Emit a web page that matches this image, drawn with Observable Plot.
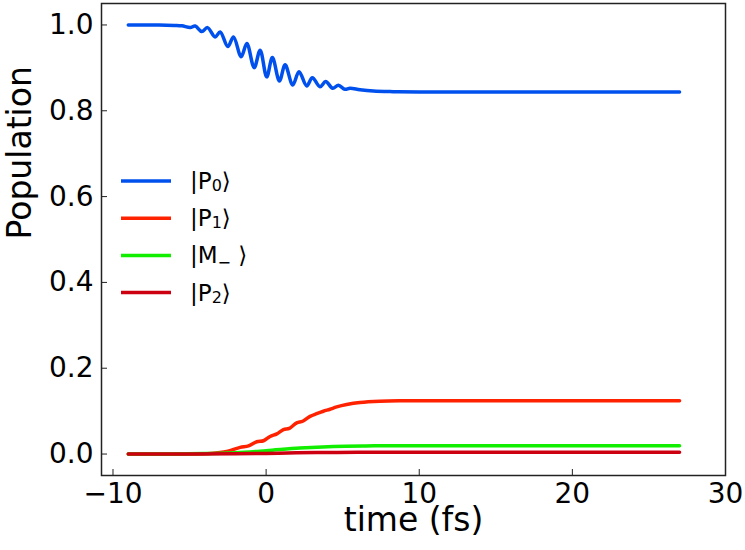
<!DOCTYPE html>
<html>
<head>
<meta charset="utf-8">
<script src="https://cdn.jsdelivr.net/npm/d3@7"></script>
<script src="https://cdn.jsdelivr.net/npm/@observablehq/plot@0.6"></script>
<style>
  body { margin: 0; background: white; }
  svg { display: block; }
</style>
</head>
<body>
<div id="chart"></div>
<script>
const xTicks = [-10, 0, 10, 20, 30];
const yTicks = [0, 0.2, 0.4, 0.6, 0.8, 1.0];

// label = [base, subscript, trailing]
const labels = [["|P", "0", "\u27E9"], ["|P", "1", "\u27E9"], ["|M", "\u2212", " \u27E9"], ["|P", "2", "\u27E9"]];
const colors = ["#0050ee", "#ff2200", "#11ee00", "#cc0011"];

const tP0 = [-9, -7, -6, -5.5, -4.96, -4.63, -4.2, -3.83, -3.33, -3.0, -2.5, -2.13, -1.63, -1.26, -0.78, -0.39, 0.04, 0.41, 0.87, 1.24, 1.74, 2.15, 2.65, 3.02, 3.52, 3.89, 4.35, 4.72, 5.15, 5.48, 6.13, 7.0, 8.3, 10, 15, 20, 27];
const vP0 = [1.0, 1.0, 0.999, 0.998, 0.994, 0.9975, 0.9845, 0.9938, 0.972, 0.9837, 0.9495, 0.972, 0.926, 0.957, 0.9005, 0.941, 0.879, 0.924, 0.8696, 0.907, 0.860, 0.891, 0.858, 0.877, 0.856, 0.868, 0.8525, 0.8595, 0.850, 0.8525, 0.849, 0.846, 0.8446, 0.844, 0.844, 0.844, 0.844];

const tP1 = [-9, -5, -3.65, -2.57, -1.7, -1.15, -0.61, -0.17, 0.26, 0.7, 1.13, 1.52, 2.0, 2.39, 2.87, 3.3, 3.74, 4.17, 4.61, 5.26, 6.13, 7.43, 8.7, 12, 20, 27];
const vP1 = [0, 0, 0.0015, 0.006, 0.0155, 0.019, 0.0287, 0.031, 0.041, 0.047, 0.057, 0.060, 0.0726, 0.0765, 0.0877, 0.094, 0.0997, 0.1044, 0.1098, 0.1153, 0.120, 0.123, 0.124, 0.124, 0.124, 0.124];

const tM = [-9, -4, -2, 0, 2.2, 4.4, 6.5, 9, 15, 27];
const vM = [0, 0.001, 0.003, 0.0078, 0.014, 0.0178, 0.0190, 0.0192, 0.0192, 0.0192];

const tP2 = [-9, -2, 0, 2, 4, 6, 9, 27];
const vP2 = [0, 0.0005, 0.0015, 0.0028, 0.0036, 0.004, 0.0042, 0.0042];

const seriesT = [tP0, tP1, tM, tP2];
const seriesV = [vP0, vP1, vM, vP2];

const series = seriesT.map((ts, i) => ({
  label: labels[i],
  color: colors[i],
  rows: ts.map((t, j) => ({t, v: seriesV[i][j]}))
}));

function legend(index, scales, values, dims) {
  const g = d3.create("svg:g");
  series.forEach((s, i) => {
    const y = 181 + i * 37.2;
    g.append("line")
      .attr("x1", 121).attr("x2", 171).attr("y1", y).attr("y2", y)
      .attr("stroke", s.color).attr("stroke-width", 3.5);
    const txt = g.append("text")
      .attr("x", 190).attr("y", y + 8)
      .attr("fill", "black")
      .style("font-family", "DejaVu Sans")
      .style("font-size", "23px")
      .style("text-anchor", "start");
    const [base, sub, tail] = s.label;
    const isMinus = sub === "\u2212";
    const shift = isMinus ? 5 : 2;
    txt.append("tspan").text(base);
    txt.append("tspan").attr("dy", shift).style("font-size", "16px").text(sub);
    txt.append("tspan").attr("dy", -shift).text(tail);
  });
  return g.node();
}

const chart = Plot.plot({
  width: 745,
  height: 550,
  marginLeft: 101,
  marginRight: 20,
  marginTop: 3,
  marginBottom: 75,
  style: { fontFamily: "DejaVu Sans", fontSize: "28px", background: "white", color: "black" },
  x: { domain: [-10.75, 30], label: null },
  y: { domain: [-0.05, 1.05], label: null },
  marks: [
    ...series.map(s => Plot.line(s.rows, { x: "t", y: "v", stroke: s.color, strokeWidth: 3.5, curve: "catmull-rom" })),
    Plot.axisX(xTicks, { tickSize: 0, tickPadding: 8, fontSize: 28, label: null }),
    Plot.axisX(xTicks, { tickSize: -6, tickFormat: () => "", label: null, stroke: "#222" }),
    Plot.axisY(yTicks, { tickSize: 0, tickPadding: 8, fontSize: 28, tickFormat: d3.format(".1f"), label: null }),
    Plot.axisY(yTicks, { tickSize: -6, tickFormat: () => "", label: null, stroke: "#222" }),
    Plot.frame({ stroke: "#222", strokeWidth: 1.5 }),
    Plot.text(["time (fs)"], { frameAnchor: "bottom", dy: 55, fontSize: 33, fill: "black" }),
    Plot.text(["Population"], { frameAnchor: "left", dx: -81, rotate: -90, fontSize: 33, fill: "black" }),
    legend
  ]
});
document.getElementById("chart").appendChild(chart);
</script>
</body>
</html>
